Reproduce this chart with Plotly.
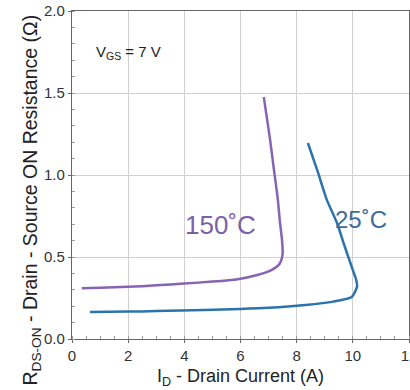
import plotly.graph_objects as go

id_150 = [0.35, 1.0, 2.0, 3.0, 4.0, 5.0, 5.9, 6.6, 7.1, 7.4, 7.5, 7.48, 7.4, 7.33, 7.2, 7.05, 6.83]
r_150 = [0.31, 0.312, 0.318, 0.327, 0.338, 0.35, 0.365, 0.39, 0.42, 0.46, 0.52, 0.6, 0.72, 0.85, 1.02, 1.22, 1.475]

id_25 = [0.64, 2.0, 3.0, 4.73, 6.0, 7.0, 8.3, 9.3, 9.96, 10.15, 10.12, 9.96, 9.7, 9.43, 9.07, 8.75, 8.4]
r_25 = [0.165, 0.167, 0.17, 0.177, 0.183, 0.19, 0.207, 0.228, 0.256, 0.32, 0.36, 0.44, 0.57, 0.71, 0.85, 1.02, 1.195]

x_ticks = [0, 2, 4, 6, 8, 10, 12]
y_ticks = [0.0, 0.5, 1.0, 1.5, 2.0]

purple = "#8763b3"
blue = "#2b73ad"
FONT = "Liberation Sans, Arial"

fig = go.Figure()
fig.add_trace(go.Scatter(x=id_150, y=r_150, mode="lines", hoverinfo="skip",
                         line=dict(color=purple, width=2.5, shape="spline", smoothing=0.6)))
fig.add_trace(go.Scatter(x=id_25, y=r_25, mode="lines", hoverinfo="skip",
                         line=dict(color=blue, width=2.5, shape="spline", smoothing=0.6)))

fig.add_annotation(x=5.27, y=0.695, text="150˚C", showarrow=False,
                   font=dict(family=FONT, size=26, color="#7b5fa8"))
fig.add_annotation(x=10.28, y=0.726, text="25˚C", showarrow=False,
                   font=dict(family=FONT, size=24, color="#3d6c99"))
fig.add_annotation(x=0.8, y=1.75, xanchor="left", text="V<sub>GS</sub> = 7 V", showarrow=False,
                   font=dict(family=FONT, size=15, color="#222"))
# y-axis title (annotation, offset like the original)
fig.add_annotation(xref="paper", yref="paper", x=-0.163, y=0.424, textangle=-90,
                   text="R<sub>DS-ON</sub> - Drain - Source ON Resistance (Ω)", showarrow=False,
                   font=dict(family=FONT, size=19.5, color="#222"))

axis_common = dict(showgrid=True, gridcolor="#d0d0d0", gridwidth=1,
                   showline=True, linecolor="#666", linewidth=1.2, mirror=True,
                   ticks="outside", ticklen=3, tickcolor="#666",
                   tickfont=dict(family=FONT, size=15, color="#333"),
                   ticklabeloverflow="allow",
                   zeroline=False, automargin=False,
                   minor=dict(ticks="inside", ticklen=3, tickcolor="#999", showgrid=False))

fig.update_xaxes(range=[0, 12], tickvals=x_ticks, ticktext=[str(v) for v in x_ticks],
                 title=dict(text="I<sub>D</sub> - Drain Current (A)", standoff=6,
                            font=dict(family=FONT, size=18, color="#222")),
                 **axis_common)
fig.update_yaxes(range=[0, 2.0], tickvals=y_ticks, ticktext=[f"{v:.1f}" for v in y_ticks],
                 **axis_common)

fig.update_layout(width=410, height=390, showlegend=False, hovermode=False,
                  margin=dict(l=72, r=1, t=11, b=51, autoexpand=False),
                  plot_bgcolor="white", paper_bgcolor="white")

fig.write_html("out.html", config={"displayModeBar": False},
               post_script="document.body.style.margin='0';document.body.style.overflow='hidden';")
